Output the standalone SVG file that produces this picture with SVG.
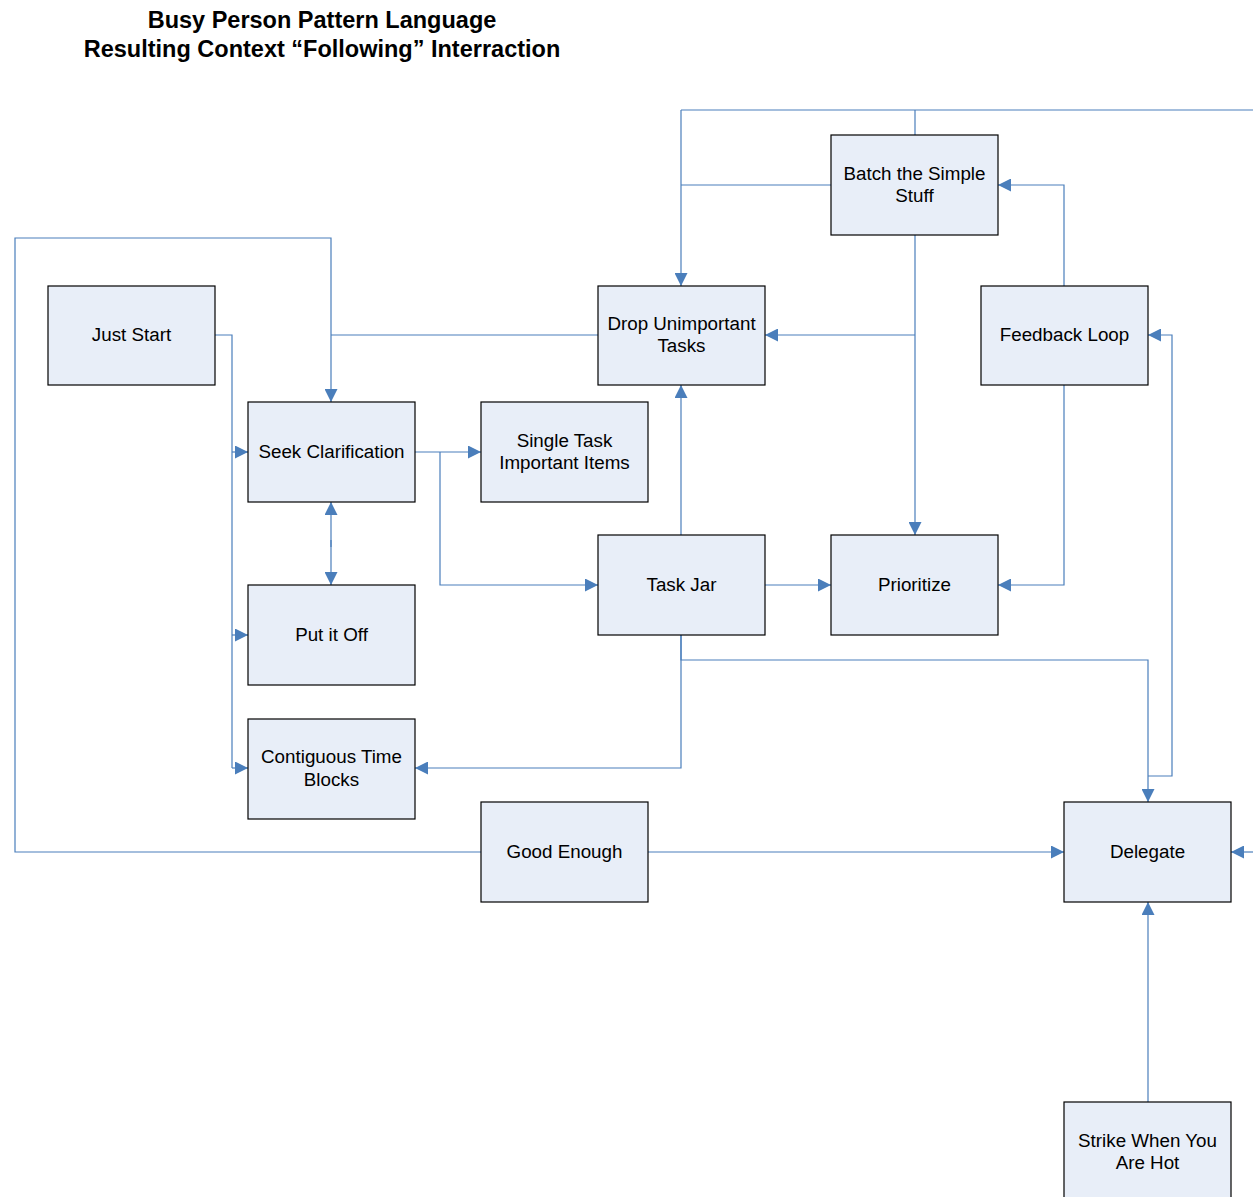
<svg xmlns="http://www.w3.org/2000/svg" width="1253" height="1197" viewBox="0 0 1253 1197">
<defs>
<marker id="ah" markerWidth="13" markerHeight="13" refX="13" refY="6.5" orient="auto" markerUnits="userSpaceOnUse">
<path d="M0,0 L13,6.5 L0,13 Z" fill="#4a7ebb"/>
</marker>
</defs>
<style>
.box{fill:#e8eef8;stroke:#000;stroke-width:1.2}
.lbl{font-family:"Liberation Sans",Arial,sans-serif;font-size:18.8px;fill:#000;text-anchor:middle}
.title{font-family:"Liberation Sans",Arial,sans-serif;font-size:23.5px;font-weight:bold;fill:#000;text-anchor:middle}
.c{fill:none;stroke:#4a7ebb;stroke-width:1.2}
.a{marker-end:url(#ah)}
</style>
<rect width="1253" height="1197" fill="#fff"/>
<g id="title">
<text class="title" x="322" y="28">Busy Person Pattern Language</text>
<text class="title" x="322" y="57">Resulting Context “Following” Interraction</text>
</g>
<g id="connectors">
<path class="c" d="M1253,110 H681"/>
<path class="c" d="M915,135 V110"/>
<path class="c" d="M831,185 H681"/>
<path class="c a" d="M681,110 V286"/>
<path class="c a" d="M915,235 V535"/>
<path class="c a" d="M915,335 H765"/>
<path class="c a" d="M1064,286 V185 H998"/>
<path class="c a" d="M1064,385 V585 H998"/>
<path class="c a" d="M1148,776 H1172 V335 H1148"/>
<path class="c a" d="M681,635 V660 H1148 V802"/>
<path class="c a" d="M681,635 V768 H415"/>
<path class="c a" d="M681,535 V385"/>
<path class="c a" d="M765,585 H831"/>
<path class="c a" d="M415,452 H481"/>
<path class="c a" d="M440,452 V585 H598"/>
<path class="c a" d="M331,540 V585"/>
<path class="c a" d="M331,547 V502"/>
<path class="c" d="M215,335 H232 V768"/>
<path class="c a" d="M232,452 H248"/>
<path class="c a" d="M232,635 H248"/>
<path class="c a" d="M232,768 H248"/>
<path class="c" d="M598,335 H331"/>
<path class="c a" d="M481,852 H15 V238 H331 V402"/>
<path class="c a" d="M648,852 H1064"/>
<path class="c a" d="M1253,852 H1231"/>
<path class="c a" d="M1148,1102 V902"/>
</g>
<g id="just-start"><rect class="box" x="48" y="286" width="167" height="99"/><text class="lbl" x="131.5" y="341">Just Start</text></g>
<g id="seek-clarification"><rect class="box" x="248" y="402" width="167" height="100"/><text class="lbl" x="331.5" y="458">Seek Clarification</text></g>
<g id="put-it-off"><rect class="box" x="248" y="585" width="167" height="100"/><text class="lbl" x="331.5" y="641">Put it Off</text></g>
<g id="contiguous-time-blocks"><rect class="box" x="248" y="719" width="167" height="100"/><text class="lbl" x="331.5" y="763">Contiguous Time</text><text class="lbl" x="331.5" y="786">Blocks</text></g>
<g id="single-task"><rect class="box" x="481" y="402" width="167" height="100"/><text class="lbl" x="564.5" y="447">Single Task</text><text class="lbl" x="564.5" y="469">Important Items</text></g>
<g id="drop-unimportant"><rect class="box" x="598" y="286" width="167" height="99"/><text class="lbl" x="681.5" y="330">Drop Unimportant</text><text class="lbl" x="681.5" y="352">Tasks</text></g>
<g id="batch-simple"><rect class="box" x="831" y="135" width="167" height="100"/><text class="lbl" x="914.5" y="180">Batch the Simple</text><text class="lbl" x="914.5" y="202">Stuff</text></g>
<g id="feedback-loop"><rect class="box" x="981" y="286" width="167" height="99"/><text class="lbl" x="1064.5" y="341">Feedback Loop</text></g>
<g id="task-jar"><rect class="box" x="598" y="535" width="167" height="100"/><text class="lbl" x="681.5" y="591">Task Jar</text></g>
<g id="prioritize"><rect class="box" x="831" y="535" width="167" height="100"/><text class="lbl" x="914.5" y="591">Prioritize</text></g>
<g id="good-enough"><rect class="box" x="481" y="802" width="167" height="100"/><text class="lbl" x="564.5" y="858">Good Enough</text></g>
<g id="delegate"><rect class="box" x="1064" y="802" width="167" height="100"/><text class="lbl" x="1147.5" y="858">Delegate</text></g>
<g id="strike-when-hot"><rect class="box" x="1064" y="1102" width="167" height="100"/><text class="lbl" x="1147.5" y="1147">Strike When You</text><text class="lbl" x="1147.5" y="1169">Are Hot</text></g>
</svg>
